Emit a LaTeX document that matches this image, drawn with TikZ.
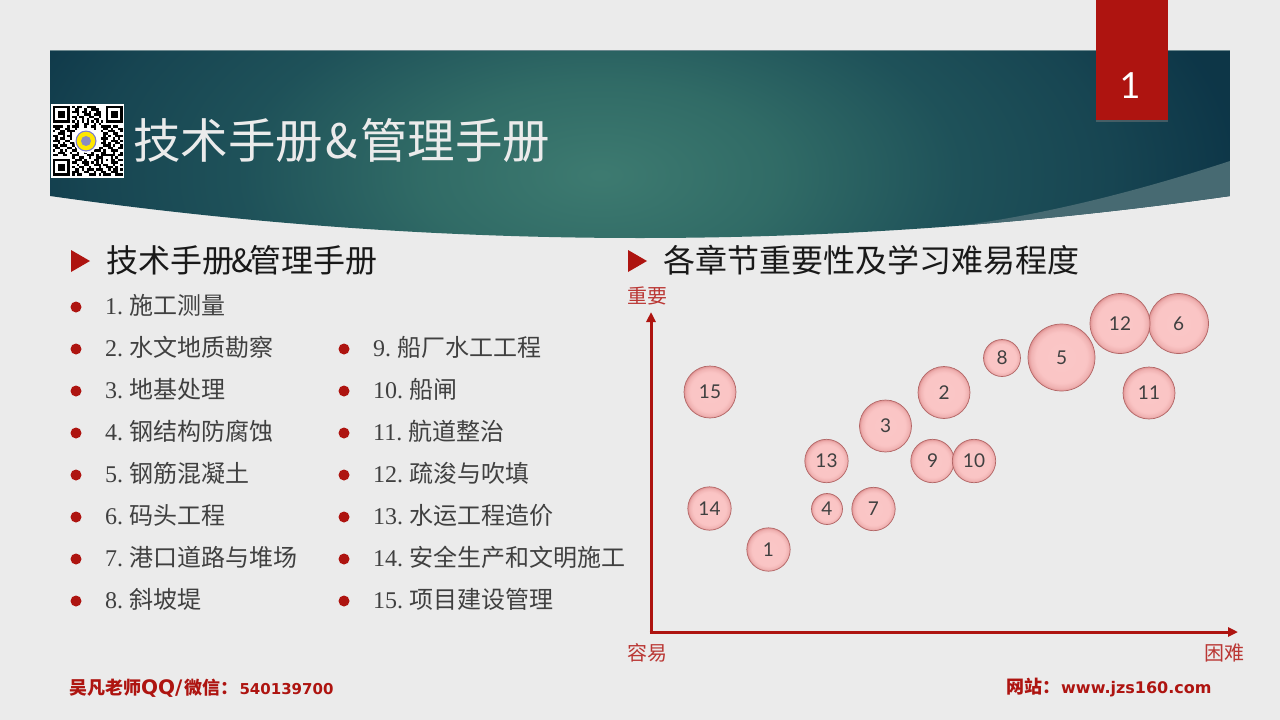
\documentclass[tikz,border=0pt]{standalone}
\usepackage{fontspec}
\setmainfont{Noto Sans CJK SC}
\newfontfamily\digitf{Liberation Serif}
\newfontfamily\numf{Lato}
\newfontfamily\webf{DejaVu Sans}
\usetikzlibrary{arrows.meta,shadows}
\definecolor{pagegray}{HTML}{EBEBEB}
\definecolor{tabred}{HTML}{AE1410}
\definecolor{listgray}{HTML}{404040}
\definecolor{wedgegray}{HTML}{476A72}
\pgfdeclareradialshading{bannerglow}{\pgfpoint{0bp}{0bp}}{%
  rgb(0bp)=(0.24,0.48,0.44);
  rgb(7bp)=(0.19,0.42,0.40);
  rgb(14bp)=(0.12,0.32,0.35);
  rgb(20bp)=(0.09,0.27,0.32);
  rgb(25bp)=(0.05,0.21,0.28);
  rgb(50bp)=(0.05,0.21,0.28)}
\pgfdeclareradialshading{bubbleglow}{\pgfpoint{0bp}{0bp}}{%
  rgb(0bp)=(0.98,0.78,0.78);
  rgb(19bp)=(0.98,0.77,0.77);
  rgb(23bp)=(0.94,0.70,0.70);
  rgb(25bp)=(0.88,0.58,0.58);
  rgb(50bp)=(0.88,0.58,0.58)}
\tikzset{
  headtext/.style={anchor=west,inner sep=0pt,text=black!90,font=\fontsize{32}{32}\selectfont},
  itemtext/.style={anchor=base west,inner sep=0pt,text=listgray,font=\fontsize{24}{24}\selectfont},
  itemdot/.style={circle,fill=tabred,inner sep=0pt,minimum size=11pt},
  axislabel/.style={inner sep=0pt,text=tabred!85,font=\fontsize{20}{20}\selectfont},
  axisline/.style={tabred,line width=3pt,-{Triangle[length=10pt,width=9pt]}},
  bubble/.style={circle,inner sep=0pt,shading=bubbleglow,draw=red!50!black!60,line width=.7pt,
    text=listgray,font=\numf\fontsize{19}{19}\selectfont},
  footertext/.style={anchor=west,inner sep=0pt,text=tabred,font=\bfseries\fontsize{18}{18}\selectfont},
}
\newcommand{\itemnum}[1]{{\digitf #1.\hspace{6pt}}}
\begin{document}
\begin{tikzpicture}[x=1pt,y=-1pt]
  \useasboundingbox (0,0) rectangle (1280,720);
  \fill[pagegray] (0,0) rectangle (1280,720);

  % banner
  \begin{scope}
    \clip (50,50) -- (1230,50) -- (1230,196) .. controls (836.7,252) and (443.3,252) .. (50,196) -- cycle;
    \shade[shading=bannerglow] (-40,-155) rectangle (1240,505);
    \fill[wedgegray] (925,240) -- (925,230) .. controls (1020,220) and (1120,197) .. (1230,161) -- (1230,240) -- cycle;
  \end{scope}
  \draw[wedgegray!80,line width=.6pt] (50,50) -- (1230,50);

  % page tab
  \fill[tabred,drop shadow={shadow xshift=0pt,shadow yshift=-2pt,opacity=.45}] (1096,0) rectangle (1168,120);
  \node[inner sep=0pt,text=white,font=\numf\fontsize{36}{36}\selectfont] (pagenum) at (1130,86) {1};

  % qr code
  \fill[white] (51,104) rectangle (124,178);
  \begin{scope}[shift={(53,106)},x=2.4pt,y=-2.4pt]
    \foreach \fx/\fy in {0/0,22/0,0/22} {
      \draw[black,line width=2.4pt] (\fx+.5,\fy+.5) rectangle (\fx+6.5,\fy+6.5);
      \fill[black] (\fx+2,\fy+2) rectangle (\fx+5,\fy+5);
    }
    \foreach \qy/\runs in {
      0/{8/1,10/2,14/3,17/1},1/{9/2,13/1,16/3},2/{8/3,12/2,15/1,18/2},3/{10/1,13/3,17/3},
      4/{8/2,11/2,15/2,19/1},5/{9/1,12/1,14/1,17/2},6/{8/1,10/1,12/1,14/1,16/1,18/1,20/1},
      7/{9/2,13/2,17/1,19/1},8/{0/4,6/1,8/3,13/1,16/2,20/4,25/2},9/{1/2,5/2,9/1,17/1,21/2,24/1,27/2},
      10/{0/1,3/2,6/3,20/1,23/3,28/1},11/{2/3,7/1,21/2,25/2},12/{0/2,4/1,6/2,21/1,23/1,26/3},
      13/{1/1,3/2,7/1,20/3,25/1,27/1},14/{0/3,5/2,21/1,24/3,28/1},15/{2/1,4/1,7/2,20/2,23/1,26/2},
      16/{0/2,3/3,8/1,21/3,25/1,28/1},17/{1/2,6/2,9/3,19/2,23/2,27/2},
      18/{0/1,3/1,5/1,8/2,12/3,17/3,21/1,24/3},19/{2/3,7/1,10/1,13/1,16/1,20/2,25/1,28/1},
      20/{0/2,4/2,8/3,14/3,18/1,20/6,27/2},21/{8/1,11/2,15/1,18/2,20/1,24/1,26/1},
      22/{9/3,13/1,17/2,20/1,22/1,24/2,27/2},23/{8/2,12/3,16/1,18/1,20/1,24/3},
      24/{10/1,13/2,17/3,21/2,25/1,28/1},25/{8/1,11/2,15/1,19/1,22/3,26/1},
      26/{9/2,12/1,14/3,18/3,23/1,25/2,28/1},27/{8/3,13/2,17/1,20/2,24/3},
      28/{8/1,10/2,15/3,19/1,21/3,26/3}} {
      \foreach \qx/\qw in \runs {
        \fill[black] (\qx,\qy) rectangle (\qx+\qw,\qy+1);
      }
    }
  \end{scope}
  \fill[white] (86,141) circle (12);
  \fill[blue!50!gray!70] (86,141) circle (10.5);
  \fill[yellow!90!orange] (86,141) circle (9.3);
  \fill[blue!30!gray!70] (86,141) circle (5);

  % title
  \node[anchor=west,inner sep=0pt,text=pagegray,font=\fontsize{47.5}{48}\selectfont] (title) at (133,140) {技术手册\hspace{2.5pt}\&\hspace{2.5pt}管理手册};

  % headings
  \fill[tabred] (71,250) -- (90,261) -- (71,272) -- cycle;
  \node[headtext] (headleft) at (106,260) {技术手册\hspace{-3pt}\&\hspace{-3pt}管理手册};
  \fill[tabred] (628,250) -- (647,261) -- (628,272) -- cycle;
  \node[headtext] (headright) at (663,260) {各章节重要性及学习难易程度};

  % left column
  \foreach \num/\txt [count=\i from 0] in {1/施工测量,2/水文地质勘察,3/地基处理,4/钢结构防腐蚀,5/钢筋混凝土,6/码头工程,7/港口道路与堆场,8/斜坡堤} {
    \pgfmathsetmacro{\ypos}{307+42*\i}
    \node[itemdot] (dot\num) at (76,\ypos) {};
    \node[itemtext] (item\num) at (105,\ypos+7.5) {\itemnum{\num}\txt};
  }
  % right column
  \foreach \num/\txt [count=\i from 0] in {9/船厂水工工程,10/船闸,11/航道整治,12/疏浚与吹填,13/水运工程造价,14/安全生产和文明施工,15/项目建设管理} {
    \pgfmathsetmacro{\ypos}{349+42*\i}
    \node[itemdot] (dot\num) at (344,\ypos) {};
    \node[itemtext] (item\num) at (373,\ypos+7.5) {\itemnum{\num}\txt};
  }

  % axes
  \coordinate (origin) at (651,632);
  \coordinate (ytip) at (651,312);
  \coordinate (xtip) at (1238,632);
  \draw[axisline] (origin) -- (ytip);
  \draw[axisline] ([xshift=-1.5pt]origin) -- (xtip);
  \node[axislabel] (ylabel) at (647,296) {重要};
  \node[axislabel] (easylabel) at (647,653) {容易};
  \node[axislabel] (hardlabel) at (1224,653) {困难};

  % bubbles
  \foreach \num/\bx/\by/\br in {15/710/392/26,14/709.5/508.5/21.7,1/768.5/549.5/21.7,4/827/509/15.5,
    7/873.5/509/21.7,13/826.5/461/21.7,3/885.5/426/26,2/944/392.5/26,9/932.5/461/21.7,10/974/461/21.7,
    8/1002/358/18.5,5/1061.5/357.5/33.5,6/1178.5/323.5/30,12/1120/323.5/30,11/1149/393/26} {
    \node[bubble,minimum size=2*\br pt] (bubble\num) at (\bx,\by) {\num};
  }

  % footer
  \node[footertext] (contact) at (69,688) {吴凡老师{\webf\fontsize{20}{20}\selectfont QQ/}\hspace{2pt}微信：\hspace{1pt}{\webf\fontsize{15}{15}\selectfont 540139700}};
  \node[footertext] (website) at (1006,688) {网站：\hspace{1pt}{\webf\fontsize{16}{16}\selectfont www.jzs160.com}};
\end{tikzpicture}
\end{document}
